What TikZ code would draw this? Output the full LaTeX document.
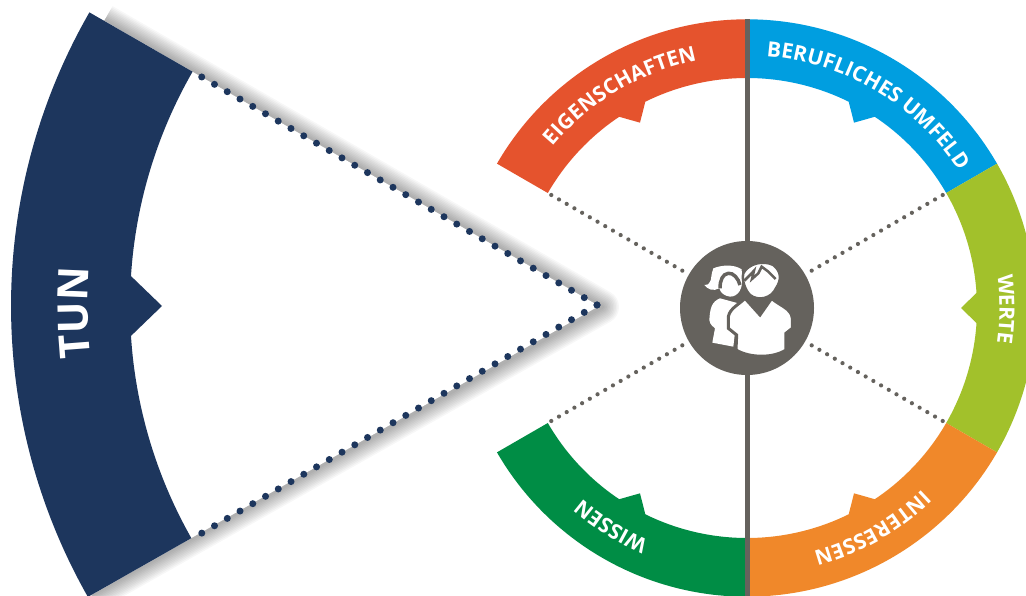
\documentclass[tikz,border=0pt]{standalone}
\usepackage{fontspec}
\setmainfont{Open Sans}
\usetikzlibrary{decorations.text}
\definecolor{cRed}{HTML}{E5532D}
\definecolor{cBlue}{HTML}{009EE0}
\definecolor{cLime}{HTML}{A2C12B}
\definecolor{cOrange}{HTML}{F0882A}
\definecolor{cGreen}{HTML}{008D45}
\definecolor{cNavy}{HTML}{1D365D}
\definecolor{cGrey}{HTML}{65625D}
% start angle, end angle (clockwise), colour, notch angle
\newcommand{\ringseg}[4]{%
  \pgfmathsetmacro{\nlo}{#4-3.75}\pgfmathsetmacro{\nhi}{#4+3.75}%
  \fill[#3] (#1:288.7) arc[start angle=#1,end angle=#2,radius=288.7]
    -- (#2:230) arc[start angle=#2,end angle=\nlo,radius=230]
    -- (#4:214) -- (\nhi:230)
    arc[start angle=\nhi,end angle=#1,radius=230] -- cycle;}
\newcommand{\ringtext}[3]{%
  \path[decorate,decoration={text effects along path,text={#3},
     text effects/.cd,fit text to path,text along path,
     characters={text=white,font=\bfseries\fontsize{21}{21}\selectfont}}]
     (#1:252.5) arc[start angle=#1,end angle=#2,radius=252.5];}
\tikzset{
  greydots/.style={cGrey,line width=4.2,line cap=round,dash pattern=on 0pt off 8.9pt},
  navydots/.style={cNavy,line width=7,line cap=round,dash pattern=on 0pt off 14.72pt},
  hub/.style={circle,fill=cGrey,minimum size=134,inner sep=0,outer sep=0}
}
\begin{document}
\begin{tikzpicture}[x=1pt,y=1pt]
\useasboundingbox (0,0) rectangle (1026,595);
\clip (0,0) rectangle (1026,595);
\fill[white] (0,0) rectangle (1026,595);
% wedge shadow
\begin{scope}[shift={(600,289)}]
  \foreach \w in {34,31,28,25,22,19,16,13,10,7,4}{
    \draw[black,opacity=0.03,line width=\w,line join=round]
      (150.1:572) -- (2,-1) -- (209.6:585);
  }
  \fill[white] (150.1:589) -- (-1,0) -- (209.6:589) -- cycle;
\end{scope}
% TUN sector
\begin{scope}[shift={(600,289)}]
  \fill[cNavy] (150.1:589) arc[start angle=150.1,end angle=209.6,radius=589]
    -- (209.6:470) arc[start angle=209.6,end angle=183.65,radius=470]
    -- (180:438) -- (176.35:470) arc[start angle=176.35,end angle=150.1,radius=470] -- cycle;
  \path[postaction={decorate,decoration={text along path,text align=center,
     text={|\color{white}\bfseries\fontsize{42}{42}\selectfont|TUN}}}]
     (193.7:512) arc[start angle=193.7,end angle=167.7,radius=512];
  \coordinate (ut) at (150.1:462);
  \coordinate (lt) at (209.7:462);
\end{scope}
\coordinate (tip) at (597,290);
\draw[navydots] (tip) -- (ut);
\draw[navydots] (tip) -- (lt);
% ring
\begin{scope}[shift={(747,287)}]
  \ringseg{150}{90}{cRed}{120}
  \ringseg{90}{30}{cBlue}{60}
  \ringseg{30}{-30}{cLime}{0}
  \ringseg{-30}{-90}{cOrange}{-60}
  \ringseg{-90}{-150}{cGreen}{-120}
  \ringtext{140.2}{101.4}{EIGENSCHAFTEN}
  \ringtext{85.6}{32.9}{BERUFLICHES UMFELD}
  \ringtext{7.5}{-8}{WERTE}
  \ringtext{-45.9}{-74.8}{INTERESSEN}
  \ringtext{-113}{-130.8}{WISSEN}
  \coordinate (a1) at (150:226);
  \coordinate (a2) at (30:226);
  \coordinate (a3) at (-30:226);
  \coordinate (a4) at (-150:226);
  \coordinate (vt) at (0.5,288.7);
  \coordinate (vb) at (0.5,-310);
\end{scope}
\coordinate (hubc) at (747,287);
\draw[cGrey,line width=5] (vt) -- (vb);
\node[hub] (hb) at (hubc) {};
\foreach \a in {a1,a2,a3,a4}{ \draw[greydots] (\a) -- (hb); }
% people icon (coordinates of the 3x crop)
\begin{scope}[shift={(680,365)},x=0.3333pt,y=-0.3333pt]
  \fill[white] (185,118) .. controls (160,102) and (125,105) .. (100,115)
    .. controls (92,135) and (95,150) .. (90,155)
    .. controls (85,165) and (80,165) .. (73,165)
    .. controls (82,178) and (100,185) .. (118,175)
    .. controls (122,190) and (135,198) .. (150,200)
    .. controls (175,200) and (190,175) .. (186,140) -- cycle;
  \fill[white] (120,205) .. controls (95,215) and (90,235) .. (88,270)
    .. controls (90,285) and (100,290) .. (105,295)
    -- (97,338) -- (160,350) -- (175,220) -- cycle;
  \fill[white,draw=cGrey,line width=2.5] (190,130) .. controls (205,100) and (250,90) .. (280,105)
    .. controls (305,125) and (305,150) .. (288,175)
    .. controls (275,205) and (235,215) .. (210,195)
    .. controls (195,180) and (185,150) .. (190,130) -- cycle;
  \fill[white,draw=cGrey,line width=3] (195,205) .. controls (175,225) and (150,235) .. (145,260)
    -- (145,295) -- (170,315) -- (168,360)
    .. controls (210,385) and (280,385) .. (318,360)
    -- (318,310) -- (337,295) -- (337,265)
    .. controls (335,235) and (295,225) .. (275,205)
    -- (240,255) -- cycle;
  \draw[cGrey,line width=2.5] (193,152) -- (210,135) -- (222,122) -- (216,147) -- (235,130) -- (245,110) -- (265,125) -- (287,147);
  \draw[cGrey,line width=3.5] (120,175) .. controls (120,150) and (128,132) .. (145,130) .. controls (160,128) and (175,145) .. (180,165);
  \fill[cGrey] (232,225) -- (248,225) -- (240,255) -- cycle;
\end{scope}
\end{tikzpicture}
\end{document}
